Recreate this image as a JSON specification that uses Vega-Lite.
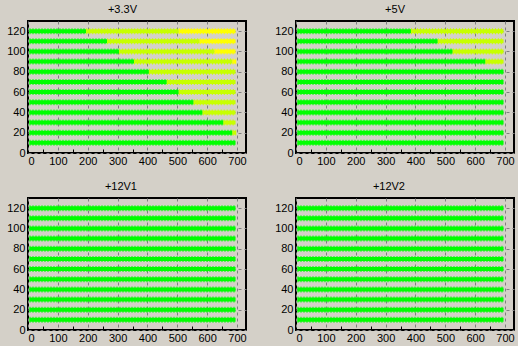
{
  "$schema": "https://vega.github.io/schema/vega-lite/v6.json",
  "background": "#d4d0c8",
  "padding": {"left": 5, "top": 3, "right": 2, "bottom": 2},
  "data": {
    "values": [
      {"panel": "+3.3V", "y": 120, "x1": 5, "x2": 195, "c": "G"},
      {"panel": "+3.3V", "y": 120, "x1": 195, "x2": 505, "c": "YG"},
      {"panel": "+3.3V", "y": 120, "x1": 505, "x2": 695, "c": "Y"},
      {"panel": "+3.3V", "y": 110, "x1": 5, "x2": 265, "c": "G"},
      {"panel": "+3.3V", "y": 110, "x1": 265, "x2": 575, "c": "YG"},
      {"panel": "+3.3V", "y": 110, "x1": 575, "x2": 695, "c": "Y"},
      {"panel": "+3.3V", "y": 100, "x1": 5, "x2": 305, "c": "G"},
      {"panel": "+3.3V", "y": 100, "x1": 305, "x2": 625, "c": "YG"},
      {"panel": "+3.3V", "y": 100, "x1": 625, "x2": 695, "c": "Y"},
      {"panel": "+3.3V", "y": 90, "x1": 5, "x2": 355, "c": "G"},
      {"panel": "+3.3V", "y": 90, "x1": 355, "x2": 685, "c": "YG"},
      {"panel": "+3.3V", "y": 90, "x1": 685, "x2": 697, "c": "Y"},
      {"panel": "+3.3V", "y": 80, "x1": 5, "x2": 405, "c": "G"},
      {"panel": "+3.3V", "y": 80, "x1": 405, "x2": 695, "c": "YG"},
      {"panel": "+3.3V", "y": 70, "x1": 5, "x2": 465, "c": "G"},
      {"panel": "+3.3V", "y": 70, "x1": 465, "x2": 695, "c": "YG"},
      {"panel": "+3.3V", "y": 60, "x1": 5, "x2": 505, "c": "G"},
      {"panel": "+3.3V", "y": 60, "x1": 505, "x2": 695, "c": "YG"},
      {"panel": "+3.3V", "y": 50, "x1": 5, "x2": 555, "c": "G"},
      {"panel": "+3.3V", "y": 50, "x1": 555, "x2": 695, "c": "YG"},
      {"panel": "+3.3V", "y": 40, "x1": 5, "x2": 585, "c": "G"},
      {"panel": "+3.3V", "y": 40, "x1": 585, "x2": 695, "c": "YG"},
      {"panel": "+3.3V", "y": 30, "x1": 5, "x2": 655, "c": "G"},
      {"panel": "+3.3V", "y": 30, "x1": 655, "x2": 695, "c": "YG"},
      {"panel": "+3.3V", "y": 20, "x1": 5, "x2": 685, "c": "G"},
      {"panel": "+3.3V", "y": 20, "x1": 685, "x2": 697, "c": "YG"},
      {"panel": "+3.3V", "y": 10, "x1": 5, "x2": 695, "c": "G"},
      {"panel": "+5V", "y": 120, "x1": 5, "x2": 385, "c": "G"},
      {"panel": "+5V", "y": 120, "x1": 385, "x2": 695, "c": "YG"},
      {"panel": "+5V", "y": 110, "x1": 5, "x2": 475, "c": "G"},
      {"panel": "+5V", "y": 110, "x1": 475, "x2": 695, "c": "YG"},
      {"panel": "+5V", "y": 100, "x1": 5, "x2": 525, "c": "G"},
      {"panel": "+5V", "y": 100, "x1": 525, "x2": 695, "c": "YG"},
      {"panel": "+5V", "y": 90, "x1": 5, "x2": 635, "c": "G"},
      {"panel": "+5V", "y": 90, "x1": 635, "x2": 695, "c": "YG"},
      {"panel": "+5V", "y": 80, "x1": 5, "x2": 695, "c": "G"},
      {"panel": "+5V", "y": 70, "x1": 5, "x2": 695, "c": "G"},
      {"panel": "+5V", "y": 60, "x1": 5, "x2": 695, "c": "G"},
      {"panel": "+5V", "y": 50, "x1": 5, "x2": 695, "c": "G"},
      {"panel": "+5V", "y": 40, "x1": 5, "x2": 695, "c": "G"},
      {"panel": "+5V", "y": 30, "x1": 5, "x2": 695, "c": "G"},
      {"panel": "+5V", "y": 20, "x1": 5, "x2": 695, "c": "G"},
      {"panel": "+5V", "y": 10, "x1": 5, "x2": 695, "c": "G"},
      {"panel": "+12V1", "y": 120, "x1": 5, "x2": 695, "c": "G"},
      {"panel": "+12V1", "y": 110, "x1": 5, "x2": 695, "c": "G"},
      {"panel": "+12V1", "y": 100, "x1": 5, "x2": 695, "c": "G"},
      {"panel": "+12V1", "y": 90, "x1": 5, "x2": 695, "c": "G"},
      {"panel": "+12V1", "y": 80, "x1": 5, "x2": 695, "c": "G"},
      {"panel": "+12V1", "y": 70, "x1": 5, "x2": 695, "c": "G"},
      {"panel": "+12V1", "y": 60, "x1": 5, "x2": 695, "c": "G"},
      {"panel": "+12V1", "y": 50, "x1": 5, "x2": 695, "c": "G"},
      {"panel": "+12V1", "y": 40, "x1": 5, "x2": 695, "c": "G"},
      {"panel": "+12V1", "y": 30, "x1": 5, "x2": 695, "c": "G"},
      {"panel": "+12V1", "y": 20, "x1": 5, "x2": 695, "c": "G"},
      {"panel": "+12V1", "y": 10, "x1": 5, "x2": 695, "c": "G"},
      {"panel": "+12V2", "y": 120, "x1": 5, "x2": 695, "c": "G"},
      {"panel": "+12V2", "y": 110, "x1": 5, "x2": 695, "c": "G"},
      {"panel": "+12V2", "y": 100, "x1": 5, "x2": 695, "c": "G"},
      {"panel": "+12V2", "y": 90, "x1": 5, "x2": 695, "c": "G"},
      {"panel": "+12V2", "y": 80, "x1": 5, "x2": 695, "c": "G"},
      {"panel": "+12V2", "y": 70, "x1": 5, "x2": 695, "c": "G"},
      {"panel": "+12V2", "y": 60, "x1": 5, "x2": 695, "c": "G"},
      {"panel": "+12V2", "y": 50, "x1": 5, "x2": 695, "c": "G"},
      {"panel": "+12V2", "y": 40, "x1": 5, "x2": 695, "c": "G"},
      {"panel": "+12V2", "y": 30, "x1": 5, "x2": 695, "c": "G"},
      {"panel": "+12V2", "y": 20, "x1": 5, "x2": 695, "c": "G"},
      {"panel": "+12V2", "y": 10, "x1": 5, "x2": 695, "c": "G"}
    ]
  },
  "facet": {
    "field": "panel",
    "type": "nominal",
    "sort": ["+3.3V", "+5V", "+12V1", "+12V2"],
    "header": {
      "title": null,
      "labelFont": "Liberation Sans",
      "labelFontSize": 11,
      "labelColor": "black",
      "labelAnchor": "middle",
      "labelAlign": "right",
      "labelPadding": 6
    }
  },
  "columns": 2,
  "spacing": {"row": 45, "column": 50},
  "bounds": "flush",
  "resolve": {"axis": {"x": "independent", "y": "independent"}},
  "spec": {
    "width": 218,
    "height": 132,
    "encoding": {
      "x": {
        "field": "x1",
        "type": "quantitative",
        "scale": {"domain": [0, 730], "nice": false, "zero": true},
        "axis": {
          "title": null,
          "values": [0, 50, 100, 150, 200, 250, 300, 350, 400, 450, 500, 550, 600, 650, 700],
          "labelExpr": "datum.value % 100 == 0 ? datum.label : ''",
          "gridOpacity": {"condition": {"test": "datum.value % 100 == 0", "value": 1}, "value": 0},
          "tickSize": {"condition": {"test": "datum.value % 100 == 0", "value": 0}, "value": -4},
          "labelPadding": 2
        }
      },
      "x2": {"field": "x2"},
      "y": {
        "field": "y",
        "type": "quantitative",
        "scale": {"domain": [0, 130], "nice": false},
        "axis": {
          "title": null,
          "values": [0, 20, 40, 60, 80, 100, 120],
          "tickSize": 0,
          "labelPadding": 3
        }
      },
      "color": {
        "field": "c",
        "type": "nominal",
        "scale": {"domain": ["G", "YG", "Y"], "range": ["#00ff00", "#c8ff00", "#ffff00"]},
        "legend": null
      }
    },
    "layer": [
      {"mark": {"type": "rule", "strokeWidth": 4, "strokeCap": "butt", "opacity": 1}},
      {"mark": {"type": "rule", "strokeWidth": 6, "strokeDash": [1, 2], "strokeCap": "butt", "opacity": 1}}
    ]
  },
  "config": {
    "view": {"stroke": "black", "strokeWidth": 2, "fill": "#d4d0c8"},
    "axis": {
      "domain": false,
      "grid": true,
      "gridColor": "#808080",
      "gridDash": [3, 3],
      "gridWidth": 1,
      "tickColor": "black",
      "labelFont": "Liberation Sans",
      "labelFontSize": 11,
      "labelColor": "black"
    }
  }
}
